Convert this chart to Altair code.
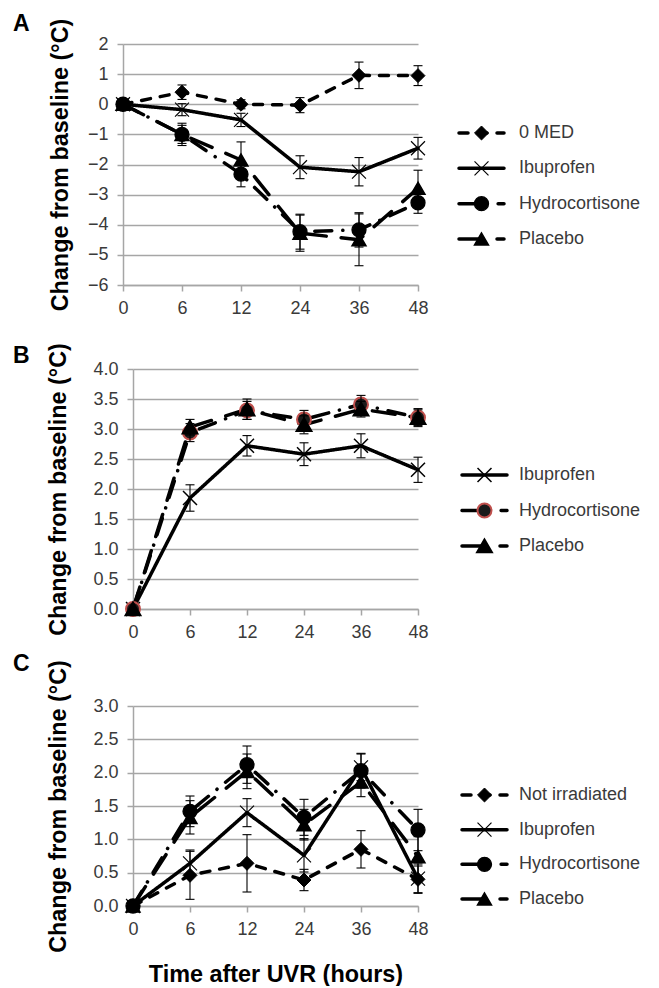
import altair as alt
import pandas as pd

# ---------------- data ----------------
TIMES = ["0", "6", "12", "24", "36", "48"]

A_SERIES = ["0 MED", "Ibuprofen", "Hydrocortisone", "Placebo"]
A_0MED = [0, 0.40, 0.00, -0.03, 0.96, 0.95]
A_0MED_ERR = [0, 0.24, 0.15, 0.25, 0.44, 0.33]
A_IBU = [0, -0.18, -0.52, -2.09, -2.24, -1.46]
A_IBU_ERR = [0, 0.20, 0.22, 0.38, 0.47, 0.36]
A_HYD = [0, -1.00, -2.32, -4.23, -4.17, -3.27]
A_HYD_ERR = [0, 0.37, 0.42, 0.58, 0.57, 0.35]
A_PLA = [0, -1.00, -1.85, -4.28, -4.50, -2.79]
A_PLA_ERR = [0, 0.30, 0.60, 0.60, 0.86, 0.60]

B_SERIES = ["Ibuprofen", "Hydrocortisone", "Placebo"]
B_IBU = [0, 1.85, 2.72, 2.58, 2.72, 2.32]
B_IBU_ERR = [0, 0.22, 0.17, 0.19, 0.20, 0.21]
B_HYD = [0, 2.94, 3.31, 3.16, 3.41, 3.19]
B_HYD_ERR = [0, 0.15, 0.15, 0.15, 0.15, 0.15]
B_PLA = [0, 3.03, 3.33, 3.07, 3.33, 3.19]
B_PLA_ERR = [0, 0.13, 0.17, 0.15, 0.13, 0.13]

C_SERIES = ["Not irradiated", "Ibuprofen", "Hydrocortisone", "Placebo"]
C_NIR = [0, 0.46, 0.64, 0.39, 0.85, 0.40]
C_NIR_ERR = [0, 0.36, 0.43, 0.16, 0.28, 0.20]
C_IBU = [0, 0.64, 1.40, 0.76, 2.08, 0.41]
C_IBU_ERR = [0, 0.20, 0.21, 0.25, 0.20, 0.22]
C_HYD = [0, 1.42, 2.12, 1.33, 2.03, 1.14]
C_HYD_ERR = [0, 0.23, 0.28, 0.27, 0.26, 0.31]
C_PLA = [0, 1.33, 2.02, 1.22, 1.86, 0.74]
C_PLA_ERR = [0, 0.25, 0.26, 0.23, 0.22, 0.30]

A_TICKS = [-6, -5, -4, -3, -2, -1, 0, 1, 2]
B_TICKS = [0, 0.5, 1.0, 1.5, 2.0, 2.5, 3.0, 3.5, 4.0]
C_TICKS = [0, 0.5, 1.0, 1.5, 2.0, 2.5, 3.0]

YTITLE = "Change from baseline (°C)"
XTITLE = "Time after UVR (hours)"

# ---------------- styles ----------------
FONT = "Liberation Sans"
GRID = "#a6a6a6"
LABEL = "#3a3a3a"
RED = "#c0504d"
X_PATH = "M-1,-1L1,1M-1,1L1,-1"
DASH = {
    "0 MED": [9, 10],
    "Not irradiated": [9, 10],
    "Ibuprofen": [1, 0],
    "Hydrocortisone": [17, 11, 0.1, 11],
    "Placebo": [23, 15],
}
SHAPE = {
    "0 MED": "diamond",
    "Not irradiated": "diamond",
    "Ibuprofen": X_PATH,
    "Hydrocortisone": "circle",
    "Placebo": "triangle-up",
}
W = 295


def long_df(names, means, errs):
    rows = []
    for n, m, e in zip(names, means, errs):
        for i, (t, v, s) in enumerate(zip(TIMES, m, e)):
            rows.append({"series": n, "time": t, "idx": i, "mean": v,
                         "lo": v - s, "hi": v + s, "err": s})
    return pd.DataFrame(rows)


def panel(letter, names, means, errs, ydom, yvals, yfmt, height, xshift,
          tpad, strokes, widths, fills, leg_line, leg_mark, leg_range, letter_y, xtitle=None):
    df = long_df(names, means, errs)
    edf = df[df["err"] > 0]

    xsc = alt.Scale(type="point", domain=TIMES, range=[xshift, W], padding=0)
    xaxis = alt.Axis(labelAngle=0, grid=False)

    def X():
        return alt.X("time:O", scale=xsc, sort=TIMES, axis=xaxis, title=xtitle)

    ysc = alt.Scale(domain=ydom, nice=False, zero=False)
    yaxis = alt.Axis(values=yvals, format=yfmt, offset=-xshift, titlePadding=tpad)

    def Y(field):
        return alt.Y(field, scale=ysc, axis=yaxis, title=YTITLE)

    dash_sc = alt.Scale(domain=names, range=[DASH[n] for n in names])
    shape_sc = alt.Scale(domain=names, range=[SHAPE[n] for n in names])
    stroke_sc = alt.Scale(domain=names, range=strokes)
    width_sc = alt.Scale(domain=names, range=widths)
    fill_sc = alt.Scale(domain=names, range=fills)

    sdash = alt.StrokeDash("series:N", scale=dash_sc, legend=None)
    sshape = alt.Shape("series:N", scale=shape_sc, legend=None)
    sstroke = alt.Stroke("series:N", scale=stroke_sc, legend=None)
    swidth = alt.StrokeWidth("series:N", scale=width_sc, legend=None)
    sfill = alt.Fill("series:N", scale=fill_sc, legend=None)

    lines = alt.Chart(df).mark_line(
        strokeWidth=3.5, color="black", strokeCap="round", strokeJoin="round"
    ).encode(x=X(), y=Y("mean:Q"), strokeDash=sdash, detail="series:N", order="idx:Q")

    pts = alt.Chart(df).mark_point(
        filled=True, opacity=1, size=195
    ).encode(x=X(), y=Y("mean:Q"), shape=sshape, fill=sfill, stroke=sstroke,
             strokeWidth=swidth)

    rules = alt.Chart(edf).mark_rule(color="black", strokeWidth=1.1).encode(
        x=X(), y=Y("lo:Q"), y2="hi:Q")
    cap_lo = alt.Chart(edf).mark_tick(color="black", thickness=1.1, size=9, opacity=1).encode(
        x=X(), y=Y("lo:Q"))
    cap_hi = alt.Chart(edf).mark_tick(color="black", thickness=1.1, size=9, opacity=1).encode(
        x=X(), y=Y("hi:Q"))

    main = alt.layer(lines, pts, rules, cap_lo, cap_hi)

    ldf = pd.DataFrame({"series": names})
    ly = alt.Y("series:N", scale=alt.Scale(type="point", domain=names, range=leg_range, padding=0),
               axis=None)
    lrule = alt.Chart(ldf).mark_rule(strokeWidth=3.5, color="black", strokeCap="round").encode(
        x=alt.value(leg_line[0]), x2=alt.value(leg_line[1]), y=ly, strokeDash=sdash)
    lpts = alt.Chart(ldf).mark_point(
        filled=True, opacity=1, size=195
    ).encode(x=alt.value(leg_mark), y=ly, shape=sshape, fill=sfill, stroke=sstroke,
             strokeWidth=swidth)
    ltxt = alt.Chart(ldf).mark_text(
        align="left", baseline="middle", font=FONT, fontSize=18, color=LABEL
    ).encode(x=alt.value(396), y=ly, text="series:N")
    legend = alt.layer(lrule, lpts, ltxt)

    lab = alt.Chart(pd.DataFrame({"panel": [letter]})).mark_text(
        align="left", baseline="top", font=FONT, fontSize=23, fontWeight="bold", color="black"
    ).encode(x=alt.value(-110), y=alt.value(letter_y), text="panel:N")

    return alt.layer(main, legend, lab).resolve_scale(y="independent").properties(
        width=W, height=height)


BLACK4 = ["black", "black", "black", "black"]

pA = panel("A", A_SERIES, [A_0MED, A_IBU, A_HYD, A_PLA],
           [A_0MED_ERR, A_IBU_ERR, A_HYD_ERR, A_PLA_ERR],
           [-6, 2], A_TICKS, "d", 241, 0, 15,
           BLACK4, [1, 1.5, 1, 1], BLACK4,
           (336, 381), 358.5, [89, 195], -31)

pB = panel("B", B_SERIES, [B_IBU, B_HYD, B_PLA],
           [B_IBU_ERR, B_HYD_ERR, B_PLA_ERR],
           [0, 4], B_TICKS, ".1f", 240, 10, 22,
           ["black", RED, "black"], [1.5, 2.5, 1], ["black", "#1a1a1a", "black"],
           (339, 384), 361.5, [106, 177], -24)

pC = panel("C", C_SERIES, [C_NIR, C_IBU, C_HYD, C_PLA],
           [C_NIR_ERR, C_IBU_ERR, C_HYD_ERR, C_PLA_ERR],
           [0, 3], C_TICKS, ".1f", 200, 10, 22,
           BLACK4, [1, 1.5, 1, 1], BLACK4,
           (339, 384), 361.5, [89, 193], -53, xtitle=XTITLE)

IND = dict(stroke="independent", strokeWidth="independent", shape="independent",
           strokeDash="independent", fill="independent")

inner = alt.concat(pB, pC, columns=1, spacing=12, align="none").resolve_scale(**IND)
chart = alt.concat(pA, inner, columns=1, spacing=25, align="none").resolve_scale(**IND).properties(
    padding={"left": 5, "top": 5, "right": 5, "bottom": 0}
).configure_view(stroke=None).configure_axis(
    labelFont=FONT, labelFontSize=18, labelColor=LABEL,
    titleFont=FONT, titleFontSize=23.4, titleFontWeight="bold", titleColor="black",
    domainColor=GRID, domainWidth=1.5, tickColor=GRID, tickWidth=1.5, tickSize=6,
    gridColor=GRID, gridWidth=1.5
).configure_axisX(labelPadding=8, titlePadding=25).configure_axisY(labelPadding=9)

chart.save("out.html", embed_options={"renderer": "svg", "actions": False})
